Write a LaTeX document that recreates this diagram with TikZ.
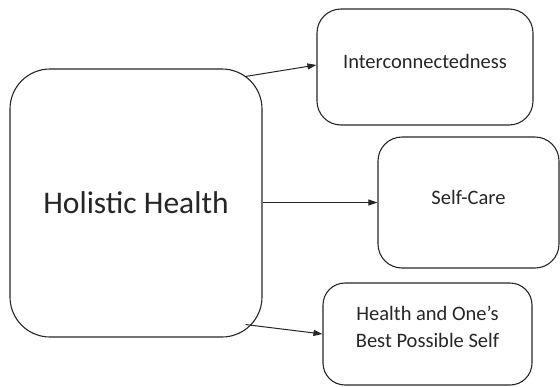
\documentclass[tikz,border=0pt]{standalone}
\usepackage{fontspec}
\setmainfont{Carlito}
\usetikzlibrary{arrows.meta}
\definecolor{ink}{HTML}{262626}
\begin{document}
\begin{tikzpicture}[x=1pt,y=-1pt,
  box/.style={draw=ink, line width=1.1pt, align=center, text=ink, inner sep=0pt},
  conn/.style={draw=ink, line width=1pt, -{Triangle[length=9pt,width=6pt]}}]
\useasboundingbox (0,0) rectangle (560,386);
\node[box, minimum width=252pt, minimum height=268pt, rounded corners=40pt, font=\fontsize{31.5}{36}\selectfont] (hh) at (136,203) {Holistic Health};
\node[box, minimum width=216pt, minimum height=116pt, rounded corners=24pt, font=\fontsize{20.5}{24}\selectfont, text depth=12pt] (ic) at (425,67) {Interconnectedness};
\node[box, minimum width=181pt, minimum height=131pt, rounded corners=24pt, font=\fontsize{20.5}{24}\selectfont, text depth=10pt] (sc) at (468.5,202.5) {Self-Care};
\node[box, minimum width=209pt, minimum height=102pt, rounded corners=22pt, font=\fontsize{20.5}{27}\selectfont, text depth=14pt] (hp) at (427.5,334) {Health and One’s\\Best Possible Self};
\draw[conn] ([shift={(-17,8)}]hh.north east) -- ([yshift=2pt]ic.west);
\draw[conn] (sc.west -| hh.east) -- (sc.west);
\draw[conn] ([shift={(-17,-13)}]hh.south east) -- (hp.west);
\end{tikzpicture}
\end{document}
